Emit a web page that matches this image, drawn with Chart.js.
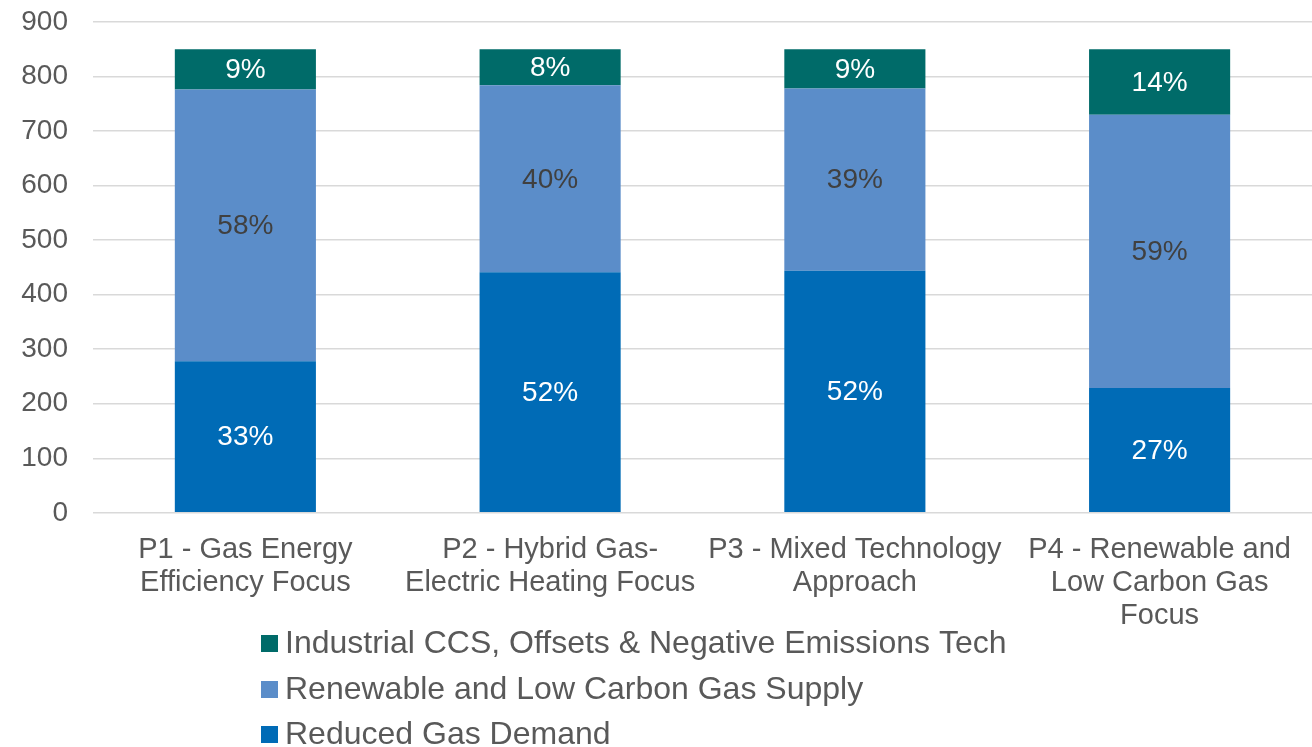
<!DOCTYPE html>
<html>
<head>
<meta charset="utf-8">
<script src="https://cdn.jsdelivr.net/npm/chart.js@4.4.0/dist/chart.umd.min.js"></script>
<style>
    html, body { margin: 0; padding: 0; background: #fff; }
</style>
</head>
<body>
<canvas id="chart" width="1312" height="747"></canvas>
<script>
const categories = [
    ['P1 - Gas Energy', 'Efficiency Focus'],
    ['P2 - Hybrid Gas-', 'Electric Heating Focus'],
    ['P3 - Mixed Technology', 'Approach'],
    ['P4 - Renewable and', 'Low Carbon Gas', 'Focus']
];
const reducedDemand = [278, 441, 444, 229];
const renewableSupply = [498, 343, 334, 501];
const industrialCcs = [74, 66, 72, 120];
const reducedPct = ['33%', '52%', '52%', '27%'];
const renewablePct = ['58%', '40%', '39%', '59%'];
const industrialPct = ['9%', '8%', '9%', '14%'];

Chart.defaults.font.family = '"Liberation Sans", Arial, sans-serif';

// percentages written in the middle of every segment
const segmentLabels = {
    id: 'segmentLabels',
    afterDatasetsDraw(chart) {
        const ctx = chart.ctx;
        ctx.save();
        ctx.font = '28px "Liberation Sans", Arial, sans-serif';
        ctx.textAlign = 'center';
        ctx.textBaseline = 'middle';
        chart.data.datasets.forEach((ds, i) => {
            const meta = chart.getDatasetMeta(i);
            meta.data.forEach((el, j) => {
                const p = el.getProps(['x', 'y', 'base'], true);
                ctx.fillStyle = ds.labelColor;
                ctx.fillText(ds.pct[j], p.x, (p.y + p.base) / 2 + 1);
            });
        });
        ctx.restore();
    }
};

// stacked legend, one entry per line, top entry = top segment
const stackedLegend = {
    id: 'stackedLegend',
    afterDraw(chart) {
        const ctx = chart.ctx;
        const left = 261;
        const rowY = [643, 689, 734];
        ctx.save();
        ctx.font = '32px "Liberation Sans", Arial, sans-serif';
        ctx.textBaseline = 'middle';
        ctx.textAlign = 'left';
        const items = chart.data.datasets.slice().reverse();
        items.forEach((ds, i) => {
            ctx.fillStyle = ds.backgroundColor;
            ctx.fillRect(left, rowY[i] - 8, 17, 17);
            ctx.fillStyle = '#595959';
            ctx.fillText(ds.label, left + 24, rowY[i] + 1);
        });
        ctx.restore();
    }
};

new Chart(document.getElementById('chart'), {
    type: 'bar',
    data: {
        labels: categories,
        datasets: [
            {
                label: 'Reduced Gas Demand',
                data: reducedDemand,
                pct: reducedPct,
                labelColor: '#ffffff',
                backgroundColor: '#006BB6'
            },
            {
                label: 'Renewable and Low Carbon Gas Supply',
                data: renewableSupply,
                pct: renewablePct,
                labelColor: '#404040',
                backgroundColor: '#5B8DC9'
            },
            {
                label: 'Industrial CCS, Offsets & Negative Emissions Tech',
                data: industrialCcs,
                pct: industrialPct,
                labelColor: '#ffffff',
                backgroundColor: '#006B69'
            }
        ]
    },
    options: {
        responsive: false,
        animation: false,
        devicePixelRatio: 1,
        categoryPercentage: 1,
        barPercentage: 0.463,
        layout: {
            padding: { left: 0, right: 0, top: 22, bottom: 93 }
        },
        plugins: {
            legend: { display: false },
            tooltip: { enabled: false }
        },
        scales: {
            x: {
                stacked: true,
                grid: { display: false, drawTicks: false },
                border: { display: false },
                ticks: {
                    color: '#595959',
                    font: { size: 29, lineHeight: 1.14 },
                    padding: 21,
                    maxRotation: 0,
                    autoSkip: false
                }
            },
            y: {
                stacked: true,
                min: 0,
                max: 900,
                afterFit(axis) {
                    // fixed axis width; label overflow is covered by layout padding
                    axis.width = 93;
                    axis.paddingTop = 0;
                    axis.paddingBottom = 0;
                },
                grid: {
                    color: '#D9D9D9',
                    lineWidth: 1.5,
                    drawTicks: false
                },
                border: { display: false },
                ticks: {
                    stepSize: 100,
                    color: '#595959',
                    font: { size: 28 },
                    padding: 25
                }
            }
        }
    },
    plugins: [segmentLabels, stackedLegend]
});
</script>
</body>
</html>
